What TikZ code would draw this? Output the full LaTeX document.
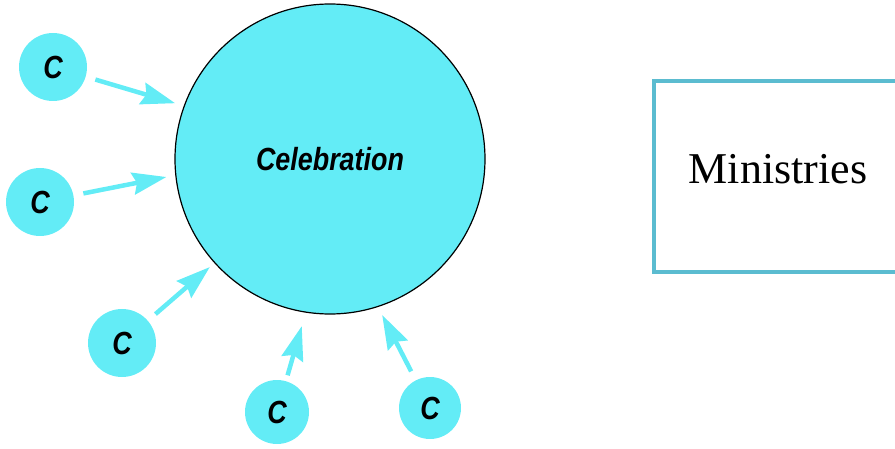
\documentclass[tikz,border=0pt]{standalone}
\usepackage{fontspec}
\setmainfont{Liberation Serif}
\newfontfamily\celfont[FakeStretch=0.84]{Liberation Sans}
\usepackage{xcolor}
\usetikzlibrary{arrows.meta}
\definecolor{celcyan}{RGB}{99,236,246}
\definecolor{boxblue}{RGB}{91,188,208}

\begin{document}
\begin{tikzpicture}[x=1pt,y=-1pt,
        member/.style={circle,fill=celcyan,inner sep=0pt,minimum size=68pt,
            font=\celfont\bfseries\itshape\fontsize{32}{32}\selectfont},
        feed/.style={draw=celcyan,line width=4.5pt,
            -{Stealth[length=34pt,width=22pt,inset=4pt]},
            shorten <=10pt,shorten >=9pt}]
        \useasboundingbox (0.000000,0.000000) rectangle (895.000000,449.000000);
        \clip (0.000000,0.000000) rectangle (895.000000,449.000000);

        % Drawing circle cel
        \node [circle,draw,line width=1.2pt,fill=celcyan,inner sep=0pt,minimum size=310pt,
            font=\celfont\bfseries\itshape\fontsize{32}{32}\selectfont]
            (cel) at (330.000000,159.000000) {Celebration};%

        % Marking the small circles c1 .. c5
        \node [member] (c1) at (53.000000,67.000000) {C};%
        \node [member] (c2) at (40.000000,202.000000) {C};%
        \node [member] (c3) at (122.000000,343.000000) {C};%
        \node [member,minimum size=64pt] (c4) at (277.000000,412.000000) {C};%
        \node [member,minimum size=62pt] (c5) at (430.000000,408.000000) {C};%

        % Drawing arrows c -> cel
        \draw [feed] (c1) -- (cel.160.8);%
        \draw [feed] (c2) -- (cel.186.6);%
        \draw [feed,shorten >=6pt] (c3) -- (cel.222);%
        \draw [feed,shorten <=6pt,shorten >=14pt] (c4) -- (cel.261.5);%
        \draw [feed] (c5) -- (cel.288.8);%

        % Drawing box min
        \node [draw=boxblue,line width=4pt,minimum width=248pt,minimum height=191pt,
            text height=29pt,text depth=15pt,font=\fontsize{44}{44}\selectfont]
            (min) at (778.000000,176.500000) {Ministries};%
    \end{tikzpicture}
\end{document}
